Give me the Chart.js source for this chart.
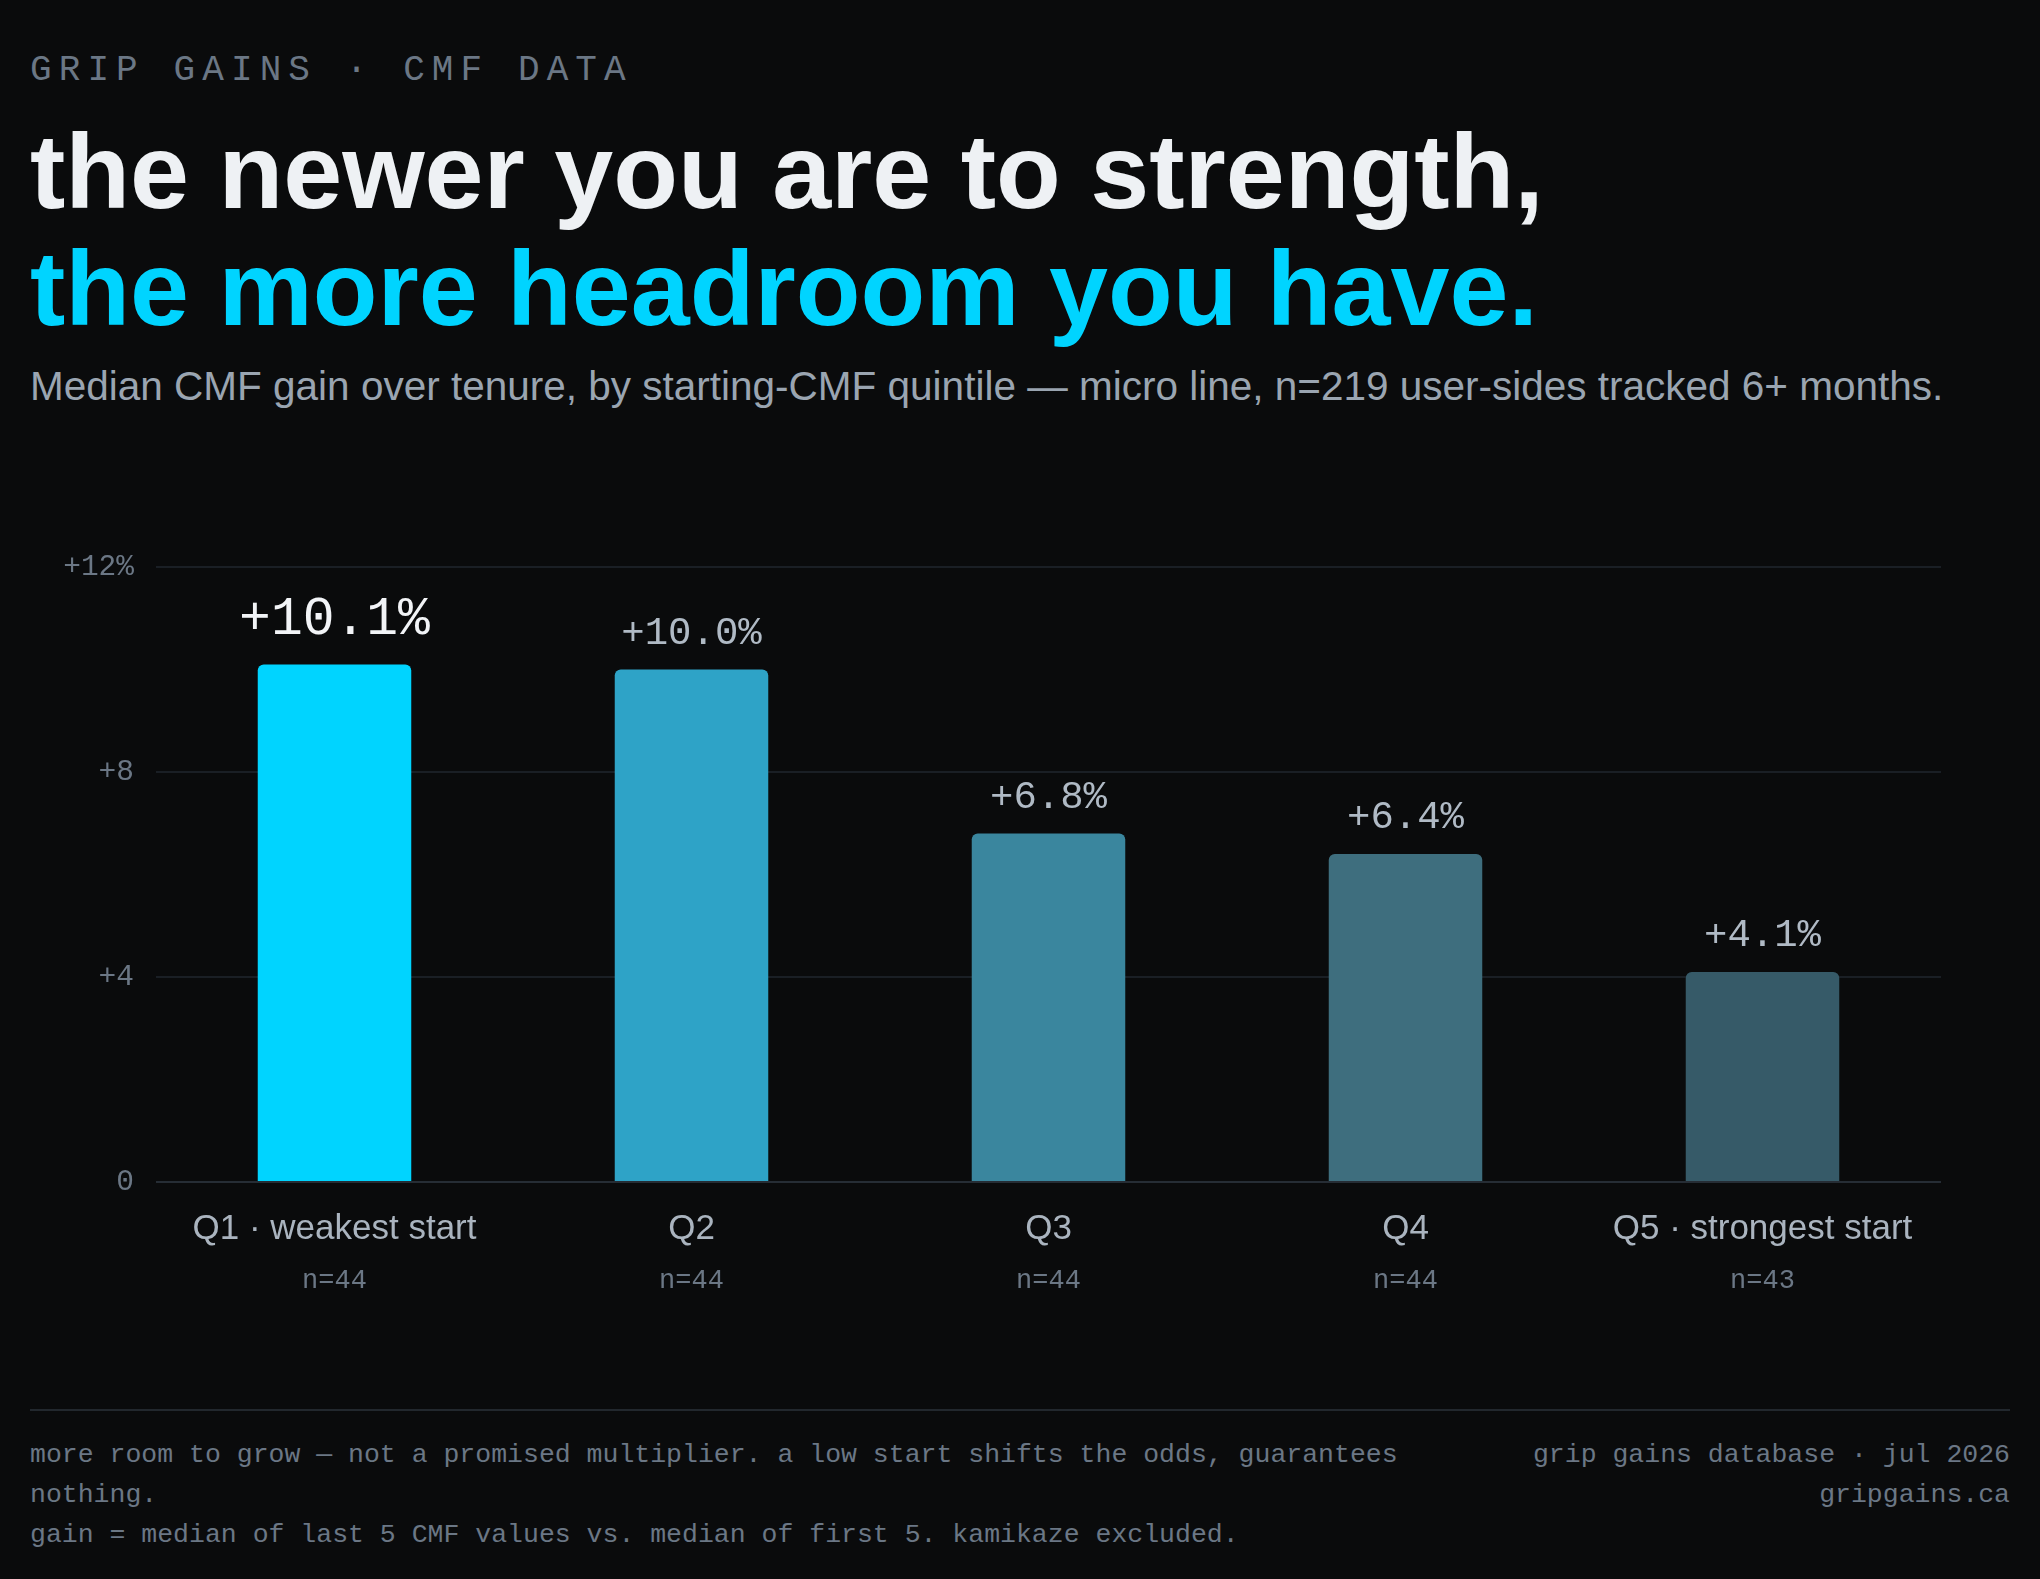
<!DOCTYPE html>
<html>
<head>
<meta charset="utf-8">
<script src="https://cdn.jsdelivr.net/npm/chart.js@4.4.1/dist/chart.umd.min.js"></script>
<style>
  html, body { margin: 0; padding: 0; background: #0a0b0c; }
  body { width: 2040px; height: 1579px; position: relative; overflow: hidden; }
  .eyebrow {
    position: absolute; left: 30px; top: 53px;
    font: 36px/36px "Liberation Mono", monospace;
    letter-spacing: 7.1px; color: #6b7785;
  }
  .title {
    position: absolute; left: 30px; top: 113px;
    font: bold 106px/117px "Liberation Sans", Arial, sans-serif;
    color: #eef1f4; white-space: nowrap;
  }
  .title .accent { color: #00d4ff; }
  .sub {
    position: absolute; left: 30px; top: 366px;
    font: 40.5px/40px "Liberation Sans", Arial, sans-serif;
    color: #9aa5b1; white-space: nowrap;
  }
  #chart { position: absolute; left: 0; top: 501px; }
  .rule { position: absolute; left: 30px; top: 1409px; width: 1980px; height: 2px; background: #22282e; }
  .foot {
    position: absolute; top: 1435px;
    font: 26.5px/40px "Liberation Mono", monospace; color: #6b7785;
  }
  .foot.left { left: 30px; width: 1440px; }
  .foot.right { right: 30px; text-align: right; }
</style>
</head>
<body>
<div class="eyebrow">GRIP GAINS · CMF DATA</div>
<div class="title">the newer you are to strength,<br><span class="accent">the more headroom you have.</span></div>
<div class="sub">Median CMF gain over tenure, by starting-CMF quintile — micro line, n=219 user-sides tracked 6+ months.</div>
<canvas id="chart" width="2040" height="830"></canvas>
<div class="rule"></div>
<div class="foot left">more room to grow — not a promised multiplier. a low start shifts the odds, guarantees nothing.<br>gain = median of last 5 CMF values vs. median of first 5. kamikaze excluded.</div>
<div class="foot right">grip gains database · jul 2026<br>gripgains.ca</div>

<script>
const quintiles = ['Q1 · weakest start', 'Q2', 'Q3', 'Q4', 'Q5 · strongest start'];
const sampleSizes = [44, 44, 44, 44, 43];
const medianGain = [10.1, 10.0, 6.8, 6.4, 4.1];
const yTickValues = [0, 4, 8, 12];
const yTickLabels = ['0', '+4', '+8', '+12%'];

const barColors = ['#00d4ff', '#2ea3c7', '#3a869e', '#3e6e7e', '#365a68'];
const MONO = '"Liberation Mono", monospace';
const SANS = '"Liberation Sans", Arial, sans-serif';

// value above each bar + sample size under each category label
const barNotes = {
  id: 'barNotes',
  afterDatasetsDraw(chart) {
    const ctx = chart.ctx;
    const bars = chart.getDatasetMeta(0).data;
    const bottom = chart.chartArea.bottom;
    ctx.save();
    ctx.textAlign = 'center';
    ctx.textBaseline = 'alphabetic';
    bars.forEach((bar, i) => {
      const lead = i === 0;
      ctx.font = (lead ? '53px ' : '39px ') + MONO;
      ctx.fillStyle = lead ? '#f2f4f7' : '#b0bac5';
      const txt = '+' + medianGain[i].toFixed(1) + '%';
      ctx.fillText(txt, bar.x, bar.y - (lead ? 30 : 26));

      ctx.font = '27px ' + MONO;
      ctx.fillStyle = '#6b7785';
      ctx.fillText('n=' + sampleSizes[i], bar.x, bottom + 106);
    });
    ctx.restore();
  }
};

const ctx = document.getElementById('chart').getContext('2d');
new Chart(ctx, {
  type: 'bar',
  data: {
    labels: quintiles,
    datasets: [{
      data: medianGain,
      backgroundColor: barColors,
      borderRadius: { topLeft: 6, topRight: 6 },
      borderSkipped: 'bottom',
      barPercentage: 0.43,
      categoryPercentage: 1
    }]
  },
  options: {
    responsive: false,
    animation: false,
    devicePixelRatio: 1,
    layout: { padding: { top: 66, right: 99, left: 0, bottom: 0 } },
    plugins: {
      legend: { display: false },
      tooltip: { enabled: false }
    },
    scales: {
      x: {
        grid: { display: false },
        border: { display: false },
        ticks: {
          color: '#aab4bf',
          font: { family: SANS, size: 35 },
          padding: 18,
          maxRotation: 0,
          autoSkip: false
        },
        afterFit(scale) { scale.height = 149; }
      },
      y: {
        min: 0,
        max: 12,
        afterBuildTicks(scale) {
          scale.ticks = yTickValues.map(v => ({ value: v }));
        },
        ticks: {
          color: '#6b7785',
          font: { family: MONO, size: 29.5 },
          padding: 22,
          callback: (v) => yTickLabels[yTickValues.indexOf(v)]
        },
        grid: {
          drawTicks: false,
          lineWidth: 2,
          color: (c) => (c.tick && c.tick.value === 0) ? '#262d35' : '#1a1f25'
        },
        border: { display: false },
        afterFit(scale) { scale.width = 156; }
      }
    }
  },
  plugins: [barNotes]
});
</script>
</body>
</html>
